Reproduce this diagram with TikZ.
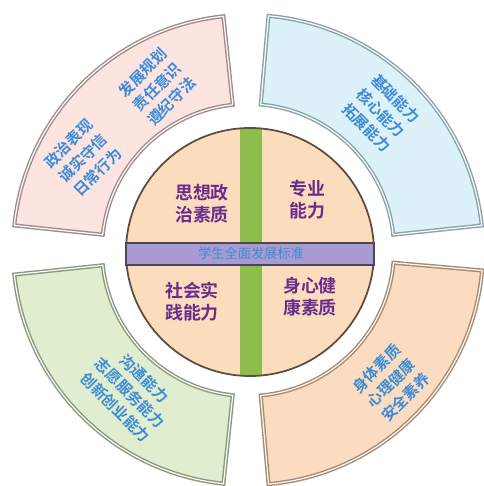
\documentclass[tikz,border=0pt]{standalone}
\usepackage{fontspec}
\usepackage{tikz}
\usetikzlibrary{arrows, arrows.meta}
\newfontfamily\cjk{Noto Sans CJK SC}[BoldFont={Noto Sans CJK SC Bold}]
\definecolor{segpink}{HTML}{FCE4E1}
\definecolor{edgepink}{HTML}{9E8C8D}
\definecolor{segblue}{HTML}{DDF1F8}
\definecolor{edgeblue}{HTML}{8AA2A8}
\definecolor{seggreen}{HTML}{E1EDCF}
\definecolor{edgegreen}{HTML}{8A977E}
\definecolor{segpeach}{HTML}{FCDCC0}
\definecolor{edgepeach}{HTML}{A68971}
\definecolor{corefill}{HTML}{FBDDBD}
\definecolor{coreedge}{HTML}{5E4C3C}
\definecolor{baredge}{HTML}{4B4558}
\definecolor{barpurple}{HTML}{A99BD2}
\definecolor{bargreen}{HTML}{8DBE4B}
\definecolor{textpurple}{HTML}{6A2C8C}
\definecolor{textblue}{HTML}{3C8CD8}
\tikzset{
  ringseg/.style={line width=0.8pt, double distance=0.7pt},
  segtext/.style={font=\cjk\bfseries\fontsize{8.6}{11.6}\selectfont, text=textblue, align=center},
  coretext/.style={font=\cjk\bfseries\fontsize{10.2}{12.5}\selectfont, text=textpurple, align=center}
}
\begin{document}
\begin{tikzpicture}[scale=0.2]
\tikzstyle{every node}+=[inner sep=0pt]
\useasboundingbox (0,0) rectangle (48.3,-48.6);
\draw [ringseg, draw=edgepink, double=white!80!segpink, fill=segpink] ([shift={(24.8,-25)}]96:23.5) arc (96:174:23.5) -- ([shift={(24.8,-25)}]174:14.6) arc (174:96:14.6) -- cycle;
\draw [ringseg, draw=edgeblue, double=white!80!segblue, fill=segblue] ([shift={(24.8,-25)}]6:23.5) arc (6:85:23.5) -- ([shift={(24.8,-25)}]85:14.6) arc (85:6:14.6) -- cycle;
\draw [ringseg, draw=edgegreen, double=white!80!seggreen, fill=seggreen] ([shift={(24.8,-25)}]186:23.5) arc (186:264:23.5) -- ([shift={(24.8,-25)}]264:14.6) arc (264:186:14.6) -- cycle;
\draw [ringseg, draw=edgepeach, double=white!80!segpeach, fill=segpeach] ([shift={(24.8,-25)}]-85:23.5) arc (-85:-5:23.5) -- ([shift={(24.8,-25)}]-5:14.6) arc (-5:-85:14.6) -- cycle;
\node (political) at (8.3,-15.8) [segtext, rotate=45] {政治表现\\诚实守信\\日常行为};
\node (planning) at (15.7,-8.7) [segtext, rotate=45] {发展规划\\责任意识\\遵纪守法};
\node (ability) at (38.1,-11.3) [segtext, rotate=-45] {基础能力\\核心能力\\拓展能力};
\node (practice) at (13.0,-39.3) [segtext, rotate=-45] {沟通能力\\志愿服务能力\\创新创业能力};
\node (health) at (39.1,-38.3) [segtext, rotate=45] {身体素质\\心理健康\\安全素养};
\fill [corefill] (25,-25.2) circle (12.4);
\begin{scope}
\clip (25,-25.2) circle (12.4);
\fill [bargreen] (24.0,-12) rectangle (26.2,-38);
\end{scope}
\draw [coreedge, line width=1pt] (25,-25.2) circle (12.4);
\draw [baredge, fill=barpurple, line width=0.6pt] (12.6,-24.3) rectangle (37.4,-26.5);
\node (std) at (25.1,-25.35) [font=\cjk\fontsize{7.5}{9}\selectfont, text=textblue] {学生全面发展标准};
\node (ideology) at (20.2,-20.4) [coretext] {思想政\\治素质};
\node (major) at (30.7,-20.0) [coretext] {专业\\能力};
\node (social) at (19.2,-30.2) [coretext] {社会实\\践能力};
\node (body) at (31.0,-29.7) [coretext] {身心健\\康素质};
\end{tikzpicture}
\end{document}
